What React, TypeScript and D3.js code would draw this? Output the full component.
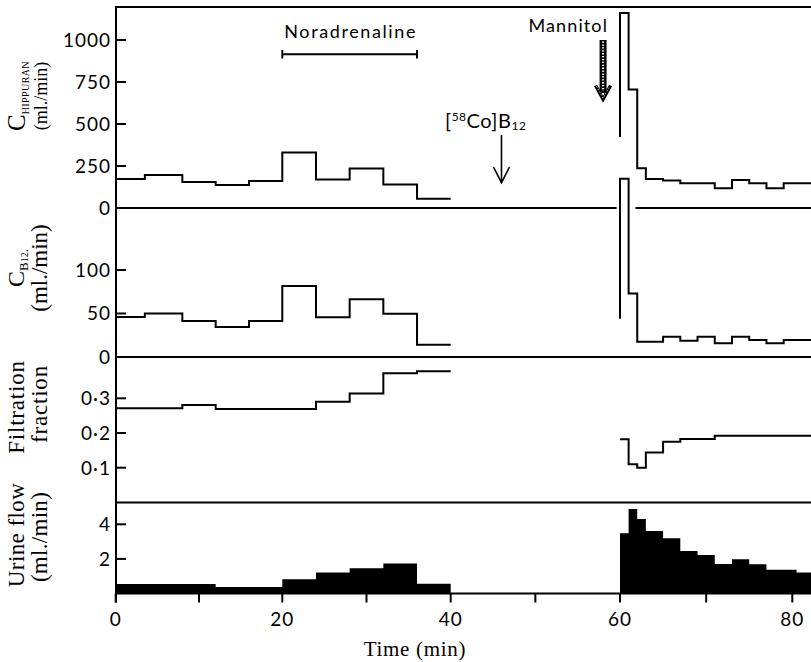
import React from 'react';
import * as d3 from 'd3';

const W = 811;
const H = 662;

// Time ticks and tick labels
const xTicks = [0, 10, 20, 30, 40, 50, 60, 70, 80];
const xTickLabels = [0, 20, 40, 60, 80];
const END = 83;

// C hippuran (ml./min)
const hipLeftT = [0, 3.5, 8, 12, 16, 20, 24, 28, 32, 36, 40];
const hipLeftV = [173, 196, 155, 137, 160, 330, 170, 235, 140, 55];
const hipRightStart = 423;
const hipRightT = [60, 61, 62, 63, 65, 67, 71, 73, 75, 77, 79, END];
const hipRightV = [1160, 706, 236, 173, 163, 147, 117, 167, 147, 117, 147];
const hipTicks = [250, 500, 750, 1000];
const hipTickLabels = [0, 250, 500, 750, 1000];

// C B12 (ml./min)
const b12LeftT = [0, 3.5, 8, 12, 16, 20, 24, 28, 32, 36, 40];
const b12LeftV = [46, 50, 41.5, 34.6, 41.5, 81.5, 45.7, 66.5, 49.6, 14.2];
const b12RightStart = 44;
const b12RightT = [60, 61, 62, 65, 67, 69, 71, 73, 75, 77, 79, END];
const b12RightV = [205, 73, 17.6, 23.4, 18.8, 23.4, 15.7, 23.4, 19.5, 15.7, 19.5];
const b12Ticks = [50, 100];
const b12TickLabels = [0, 50, 100];

// Filtration fraction
const ffLeftT = [0, 8, 12, 24, 28, 32, 36, 40];
const ffLeftV = [0.271, 0.281, 0.269, 0.29, 0.314, 0.372, 0.378];
const ffRightT = [60, 61, 62, 63, 65, 67, 71, END];
const ffRightV = [0.182, 0.11, 0.1, 0.144, 0.175, 0.183, 0.192];
const ffTicks = [0.1, 0.2, 0.3];
const ffTickLabels = ['0·1', '0·2', '0·3'];

// Urine flow (ml./min)
const urLeftT = [0, 12, 20, 24, 28, 32, 36, 40];
const urLeftV = [0.55, 0.37, 0.83, 1.21, 1.46, 1.73, 0.56];
const urRightT = [60, 61, 62, 63, 65, 67, 69, 71, 73, 75, 77, 80.5, END];
const urRightV = [3.48, 4.88, 4.31, 3.61, 3.19, 2.46, 2.23, 1.71, 1.98, 1.69, 1.37, 1.21];
const urTicks = [2, 4];

// Annotations (minutes)
const noradrenaline = [20, 36];
const b12Injection = 46;
const mannitolTime = 58;

const x = d3.scaleLinear().domain([0, 20, 40, 60, 80]).range([115.7, 282.3, 450.7, 620, 792.3]);
const yHip = d3.scaleLinear().domain([0, 1000]).range([208, 40]);
const yB12 = d3.scaleLinear().domain([0, 100]).range([357, 270]);
const yFF = d3.scaleLinear().domain([0.1, 0.3]).range([467.7, 398.3]);
const yUr = d3.scaleLinear().domain([0, 4]).range([593.5, 524.3]);

const SANS = 'Lato, "Open Sans", sans-serif';
const SERIF = '"Liberation Serif", "DejaVu Serif", serif';

function stepPoints(T: number[], V: number[], start?: number): [number, number][] {
  const pts: [number, number][] = [];
  if (start !== undefined) pts.push([T[0], start]);
  V.forEach((v, i) => pts.push([T[i], v]));
  pts.push([T[T.length - 1], V[V.length - 1]]);
  return pts;
}

function stepPath(T: number[], V: number[], y: d3.ScaleLinear<number, number>, start?: number) {
  const line = d3
    .line<[number, number]>()
    .x((d) => x(d[0]))
    .y((d) => y(d[1]))
    .curve(d3.curveStepAfter);
  return line(stepPoints(T, V, start)) || '';
}

function stepArea(T: number[], V: number[]) {
  const area = d3
    .area<[number, number]>()
    .x((d) => x(d[0]))
    .y0(yUr(0))
    .y1((d) => yUr(d[1]))
    .curve(d3.curveStepAfter);
  return area(stepPoints(T, V)) || '';
}

const AXIS_X = 116;
const TOP_Y = 7;

export default function App() {
  const lw = 2;
  const zeroHip = yHip(0);
  const zeroB12 = yB12(0);
  const zeroFF = yFF(0);
  const zeroUr = yUr(0);

  const tickLabel = (y: number, t: string | number, key: string) => (
    <text
      key={key}
      x={111}
      y={y}
      dy="0.36em"
      textAnchor="end"
      fontFamily={SANS}
      fontSize={19}
      letterSpacing={1}
      fill="#000"
    >
      {t}
    </text>
  );
  const yTick = (y: number, key: string) => (
    <line key={key} x1={AXIS_X} x2={AXIS_X + 10} y1={y} y2={y} stroke="#000" strokeWidth={lw} />
  );

  const mx = x(mannitolTime);
  const bx = x(b12Injection);

  return (
    <svg
      width={W}
      height={H}
      viewBox={`0 0 ${W} ${H}`}
      style={{ position: 'absolute', left: 0, top: 0, background: '#fff' }}
    >
      <rect x={0} y={0} width={W} height={H} fill="#fff" />

      {/* frame lines */}
      <line x1={AXIS_X} x2={W} y1={TOP_Y} y2={TOP_Y} stroke="#000" strokeWidth={lw} />
      <line x1={AXIS_X} x2={x(59.6)} y1={zeroHip} y2={zeroHip} stroke="#000" strokeWidth={lw} />
      <line x1={x(61.8)} x2={W} y1={zeroHip} y2={zeroHip} stroke="#000" strokeWidth={lw} />
      <line x1={AXIS_X} x2={W} y1={zeroB12} y2={zeroB12} stroke="#000" strokeWidth={lw} />
      <line x1={AXIS_X} x2={W} y1={zeroFF} y2={zeroFF} stroke="#000" strokeWidth={lw} />
      <line x1={AXIS_X} x2={W} y1={zeroUr} y2={zeroUr} stroke="#000" strokeWidth={lw} />
      <line x1={AXIS_X} x2={AXIS_X} y1={TOP_Y - 1} y2={zeroUr + 9} stroke="#000" strokeWidth={lw} />

      {/* y ticks */}
      {hipTicks.map((t) => yTick(yHip(t), 'ht' + t))}
      {hipTickLabels.map((t) => tickLabel(yHip(t), t, 'hl' + t))}
      {b12Ticks.map((t) => yTick(yB12(t), 'bt' + t))}
      {b12TickLabels.map((t) => tickLabel(yB12(t), t, 'bl' + t))}
      {ffTicks.map((t) => yTick(yFF(t), 'ft' + t))}
      {ffTicks.map((t, i) => tickLabel(yFF(t), ffTickLabels[i], 'fl' + t))}
      {urTicks.map((t) => yTick(yUr(t), 'ut' + t))}
      {urTicks.map((t) => tickLabel(yUr(t), t, 'ul' + t))}

      {/* x ticks */}
      {xTicks.map((t) => (
        <line key={'xt' + t} x1={x(t)} x2={x(t)} y1={zeroUr} y2={zeroUr + 9} stroke="#000" strokeWidth={lw} />
      ))}
      {xTickLabels.map((t) => (
        <text
          key={'xl' + t}
          x={x(t)}
          y={626}
          textAnchor="middle"
          fontFamily={SANS}
          fontSize={19}
          letterSpacing={1}
        >
          {t}
        </text>
      ))}
      <text x={415} y={656} textAnchor="middle" fontFamily={SERIF} fontSize={21} letterSpacing={0.7}>
        Time (min)
      </text>

      {/* data lines */}
      <g fill="none" stroke="#000" strokeWidth={lw} strokeLinejoin="miter">
        <path d={stepPath(hipLeftT, hipLeftV, yHip)} />
        <path d={stepPath(hipRightT, hipRightV, yHip, hipRightStart)} />
        <path d={stepPath(b12LeftT, b12LeftV, yB12)} />
        <path d={stepPath(b12RightT, b12RightV, yB12, b12RightStart)} />
        <path d={stepPath(ffLeftT, ffLeftV, yFF)} />
        <path d={stepPath(ffRightT, ffRightV, yFF)} />
      </g>
      <path d={stepArea(urLeftT, urLeftV)} fill="#000" />
      <path d={stepArea(urRightT, urRightV)} fill="#000" />

      {/* Noradrenaline bracket */}
      <text
        x={(x(noradrenaline[0]) + x(noradrenaline[1])) / 2 + 1}
        y={38}
        textAnchor="middle"
        fontFamily={SANS}
        fontSize={18}
        letterSpacing={1.6}
      >
        Noradrenaline
      </text>
      <g stroke="#000" strokeWidth={lw}>
        <line x1={x(noradrenaline[0])} x2={x(noradrenaline[1])} y1={54.3} y2={54.3} />
        <line x1={x(noradrenaline[0])} x2={x(noradrenaline[0])} y1={50} y2={58.5} />
        <line x1={x(noradrenaline[1])} x2={x(noradrenaline[1])} y1={50} y2={58.5} />
      </g>

      {/* [58Co]B12 arrow */}
      <text x={445} y={128} fontFamily={SANS} fontSize={20} letterSpacing={0.5}>
        [<tspan fontSize={12} dy={-7}>58</tspan>
        <tspan dy={7}>Co]B</tspan>
        <tspan fontSize={12} dy={2}>12</tspan>
      </text>
      <g stroke="#000" strokeWidth={1.6} fill="none">
        <line x1={bx} x2={bx} y1={135} y2={182.5} />
        <polyline points={`${bx - 8},${167} ${bx},${182.7} ${bx + 8},${167}`} />
      </g>

      {/* Mannitol arrow */}
      <text x={608} y={32} textAnchor="end" fontFamily={SANS} fontSize={18} letterSpacing={1.1}>
        Mannitol
      </text>
      <line x1={mx} x2={mx} y1={40} y2={93} stroke="#000" strokeWidth={7} />
      <line x1={mx} x2={mx} y1={41.5} y2={91} stroke="#fff" strokeWidth={2.2} strokeDasharray="1.3 1.6" />
      <polyline
        points={`${mx - 7.5},${85.5} ${mx},${99.3} ${mx + 7.5},${85.5}`}
        stroke="#000"
        strokeWidth={3.4}
        fill="none"
      />
      <polyline
        points={`${mx - 6.5},${86.5} ${mx},${98} ${mx + 6.5},${86.5}`}
        stroke="#fff"
        strokeWidth={0.9}
        strokeDasharray="1.2 1.8"
        fill="none"
      />

      {/* Y axis titles */}
      <g fontFamily={SERIF} fill="#000">
        <text transform={`translate(25,96) rotate(-90)`} textAnchor="middle" fontSize={25}>
          C<tspan fontSize={10} dy={4} letterSpacing={0.4}>HIPPURAN</tspan>
        </text>
        <text transform={`translate(47,96) rotate(-90)`} textAnchor="middle" fontSize={18}>
          (ml./min)
        </text>

        <text transform={`translate(24,268) rotate(-90)`} textAnchor="middle" fontSize={24}>
          C<tspan fontSize={13} dy={4}>B</tspan>
          <tspan fontSize={10} dy={0}>12</tspan>
          <tspan fontSize={13}>.</tspan>
        </text>
        <text transform={`translate(47,268) rotate(-90)`} textAnchor="middle" fontSize={23}>
          (ml./min)
        </text>

        <text transform={`translate(24,407) rotate(-90)`} textAnchor="middle" fontSize={23} letterSpacing={0.8}>
          Filtration
        </text>
        <text transform={`translate(47,404) rotate(-90)`} textAnchor="middle" fontSize={23} letterSpacing={0.8}>
          fraction
        </text>

        <text transform={`translate(24,535) rotate(-90)`} textAnchor="middle" fontSize={23} letterSpacing={0.4}>
          Urine flow
        </text>
        <text transform={`translate(47,537) rotate(-90)`} textAnchor="middle" fontSize={23} letterSpacing={0.3}>
          (ml./min)
        </text>
      </g>
    </svg>
  );
}
